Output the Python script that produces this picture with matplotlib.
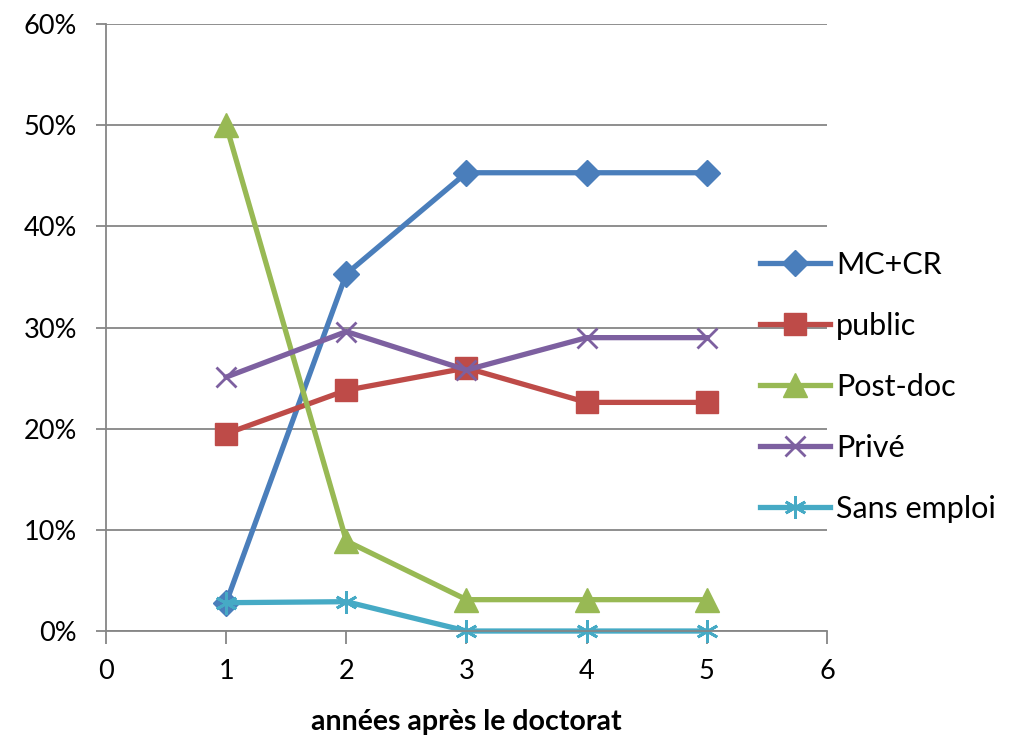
import matplotlib.pyplot as plt
from matplotlib.ticker import PercentFormatter

plt.rcParams['font.family'] = ['Lato', 'DejaVu Sans']

annees = [1, 2, 3, 4, 5]
mc_cr = [2.8, 35.3, 45.3, 45.3, 45.3]
public = [19.5, 23.8, 26.0, 22.6, 22.6]
post_doc = [50.0, 8.9, 3.1, 3.1, 3.1]
prive = [25.1, 29.6, 25.8, 29.0, 29.0]
sans_emploi = [2.8, 2.9, 0.0, 0.0, 0.0]

fig = plt.figure(figsize=(10.23, 7.37), dpi=100)
ax = fig.add_axes([0.1036, 0.1438, 0.7048, 0.8236])

lw = 3.8
ax.plot(annees, mc_cr, color='#4A7EBB', lw=lw, marker='D', ms=13, label='MC+CR', clip_on=False)
ax.plot(annees, public, color='#BE4B48', lw=lw, marker='s', ms=16, label='public', clip_on=False)
ax.plot(annees, post_doc, color='#98B954', lw=lw, marker='^', ms=17, label='Post-doc', clip_on=False)
ax.plot(annees, prive, color='#7D60A0', lw=lw, marker='x', ms=15, mew=2, label='Privé', clip_on=False)
ax.plot(annees, sans_emploi, color='#46AAC5', lw=lw, marker=(6, 2, 0), ms=16, mew=2,
        label='Sans emploi', clip_on=False)

ax.set_xlim(0, 6)
ax.set_ylim(0, 60)
ax.set_xticks(range(0, 7))
ax.set_yticks(range(0, 61, 10))
ax.yaxis.set_major_formatter(PercentFormatter(decimals=0))
ax.grid(axis='y', color='#868686', lw=1.3)
ax.set_axisbelow(True)
for s in ['top', 'right']:
    ax.spines[s].set_visible(False)
for s in ['left', 'bottom']:
    ax.spines[s].set_color('#868686')
    ax.spines[s].set_linewidth(1.3)
ax.tick_params(colors='#868686', width=1.3, labelsize=19.5, labelcolor='black')
ax.tick_params(axis='y', length=7, pad=14)
ax.tick_params(axis='x', length=9, pad=11)
ax.set_xlabel('années après le doctorat', fontsize=20.5, fontweight='bold', labelpad=18)

ax.legend(loc='center left', bbox_to_anchor=(0.907, 0.402), frameon=False, fontsize=22,
          handlelength=2.3, labelspacing=1.08, handletextpad=0.2, borderaxespad=0, borderpad=0)

plt.savefig('out.png', dpi=100)
